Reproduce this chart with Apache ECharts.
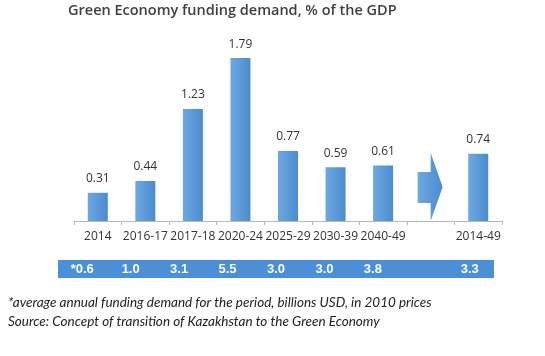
<!DOCTYPE html>
<html>
<head>
<meta charset="utf-8">
<script src="https://cdn.jsdelivr.net/npm/echarts@6/dist/echarts.min.js"></script>
<style>
html,body{margin:0;padding:0;background:#fff;}
#c{width:545px;height:356px;}
</style>
</head>
<body>
<div id="c"></div>
<script>
var categories = ['2014', '2016-17', '2017-18', '2020-24', '2025-29', '2030-39', '2040-49', '', '2014-49'];
var gdpShare = [0.31, 0.44, 1.23, 1.79, 0.77, 0.59, 0.61, null, 0.74];
var bandLabels = ['*0.6', '1.0', '3.1', '5.5', '3.0', '3.0', '3.8', '', '3.3'];
var arrowCategory = 7;
var titleText = 'Green Economy funding demand, % of the GDP';
var footnote1 = '*average annual funding demand for the period, billions USD, in 2010 prices';
var footnote2 = 'Source: Concept of transition of Kazakhstan to the Green Economy';

var chart = echarts.init(document.getElementById('c'), null, {renderer: 'canvas'});
var barColor = new echarts.graphic.LinearGradient(0, 0, 1, 0, [
  {offset: 0, color: '#6ea8e0'},
  {offset: 1, color: '#4a8bd0'}
]);
var font = '"Open Sans", Lato, sans-serif';
var noteFont = 'Lato, "Open Sans", sans-serif';
var bandColor = '#4a8fd8';

var option = {
  animation: false,
  backgroundColor: '#ffffff',
  title: {
    text: titleText,
    left: 68, top: 3,
    padding: [0, 0, 0, 0],
    textStyle: {fontFamily: font, fontSize: 14.5, fontWeight: 600, color: '#404040'}
  },
  grid: [
    {left: 74, width: 428, top: 39, height: 182},
    {left: 58, width: 436, top: 260, height: 18, show: true, backgroundColor: bandColor, borderWidth: 0}
  ],
  xAxis: [
    {
      type: 'category', gridIndex: 0, data: categories,
      axisLine: {lineStyle: {color: '#b8b8b8', width: 1}},
      axisTick: {show: true, length: 4, inside: false, lineStyle: {color: '#b8b8b8'}},
      axisLabel: {fontFamily: font, fontSize: 12, color: '#333', margin: 10, interval: 0}
    },
    {
      type: 'category', gridIndex: 1, data: bandLabels, show: false
    }
  ],
  yAxis: [
    {type: 'value', gridIndex: 0, min: 0, max: 2, show: false, splitLine: {show: false}},
    {type: 'value', gridIndex: 1, min: 0, max: 1, show: false, splitLine: {show: false}}
  ],
  series: [
    {
      type: 'bar', xAxisIndex: 0, yAxisIndex: 0, data: gdpShare,
      barWidth: 20,
      itemStyle: {color: barColor},
      label: {
        show: true, position: 'top', distance: 8,
        fontFamily: font, fontSize: 12, color: '#333',
        formatter: function (p) { return p.value == null ? '' : p.value.toFixed(2); }
      }
    },
    {
      type: 'custom', xAxisIndex: 0, yAxisIndex: 0,
      data: [[arrowCategory, 0]],
      renderItem: function (params, api) {
        var base = api.coord([api.value(0), 0]);
        var cw = api.size([1, 0])[0];
        var cx = base[0], by = base[1];
        var u = cw / 47.6;
        var pts = [
          [cx - 13 * u, by - 49],
          [cx, by - 49],
          [cx, by - 68],
          [cx + 12 * u, by - 34],
          [cx, by],
          [cx, by - 18],
          [cx - 13 * u, by - 18]
        ];
        return {
          type: 'polygon',
          shape: {points: pts},
          style: {fill: barColor}
        };
      },
      z: 3
    },
    {
      type: 'bar', xAxisIndex: 1, yAxisIndex: 1,
      data: bandLabels.map(function () { return 1; }),
      barCategoryGap: '0%',
      itemStyle: {color: 'rgba(0,0,0,0)'},
      label: {
        show: true, position: 'inside',
        fontFamily: 'Arial, "Liberation Sans", sans-serif', fontSize: 13, fontWeight: 'bold', color: '#ffffff',
        formatter: function (p) { return bandLabels[p.dataIndex]; }
      }
    }
  ],
  graphic: [
    {
      type: 'text', left: 8, top: 296,
      style: {text: footnote1, font: 'italic 13.5px ' + noteFont, fill: '#222'}
    },
    {
      type: 'text', left: 8, top: 315,
      style: {text: footnote2, font: 'italic 13.5px ' + noteFont, fill: '#222'}
    }
  ]
};
chart.setOption(option);
</script>
</body>
</html>
